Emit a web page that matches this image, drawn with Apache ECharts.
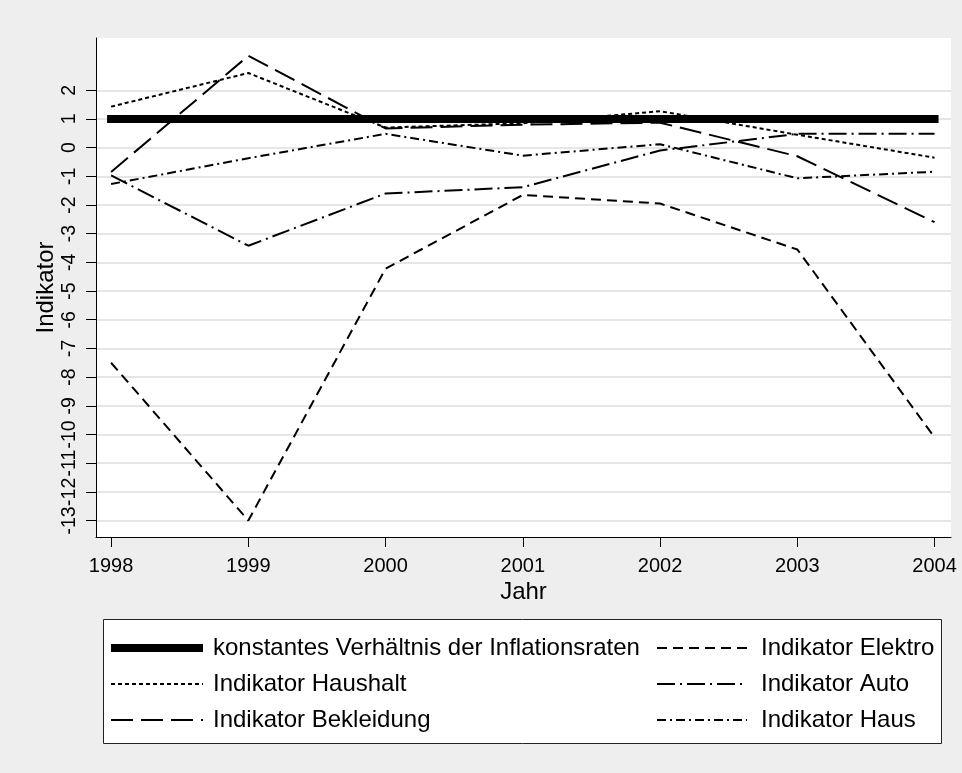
<!DOCTYPE html>
<html>
<head>
<meta charset="utf-8">
<script src="https://cdn.jsdelivr.net/npm/echarts@6/dist/echarts.min.js"></script>
<style>
  html, body { margin: 0; padding: 0; background: #eeeeee; }
  #chart { width: 962px; height: 773px; }
</style>
</head>
<body>
<div id="chart"></div>
<script>
// Daten
var jahre = [1998, 1999, 2000, 2001, 2002, 2003, 2004];
var yTicks = [-13, -12, -11, -10, -9, -8, -7, -6, -5, -4, -3, -2, -1, 0, 1, 2];
var konstant = [1, 1, 1, 1, 1, 1, 1];
var elektro = [-7.5, -13.0, -4.22, -1.65, -1.95, -3.55, -10.1];
var haushalt = [1.43, 2.6, 0.7, 0.85, 1.27, 0.45, -0.35];
var bekleidung = [-0.85, 3.2, 0.67, 0.8, 0.87, -0.3, -2.6];
var auto = [-0.97, -3.42, -1.6, -1.38, -0.1, 0.48, 0.48];
var haus = [-1.27, -0.37, 0.48, -0.28, 0.12, -1.07, -0.84];

function paare(werte) {
  return jahre.map(function (j, i) { return [j, werte[i]]; });
}

function linie(name, werte, breite, dash, cap) {
  return {
    name: name,
    type: "line",
    data: paare(werte),
    symbol: "none",
    animation: false,
    lineStyle: { color: "#000", width: breite, type: dash, cap: cap || "butt" },
    itemStyle: { color: "#000" }
  };
}

var font = "Arial, 'Liberation Sans', sans-serif";
var myChart = echarts.init(document.getElementById("chart"));

var legendText = { fontFamily: font, fontSize: 24, color: "#000", lineHeight: 26 };

var option = {
  backgroundColor: "#eeeeee",
  animation: false,
  grid: {
    left: 96, right: 11, top: 38, bottom: 236,
    show: true, backgroundColor: "#ffffff", borderWidth: 0,
    outerBoundsMode: "none"
  },
  xAxis: {
    type: "value",
    min: 1997.89, max: 2004.12,
    name: "Jahr",
    nameLocation: "middle",
    nameGap: 43,
    nameMoveOverlap: false,
    nameTextStyle: { fontFamily: font, fontSize: 24, color: "#000" },
    axisLine: { show: true, onZero: false, lineStyle: { color: "#000", width: 1 } },
    axisTick: { show: true, length: 10, lineStyle: { color: "#000" }, customValues: jahre },
    axisLabel: { customValues: jahre, fontFamily: font, fontSize: 20, color: "#000", margin: 19,
      hideOverlap: false, formatter: function (v) { return String(v); } },
    splitLine: { show: false }
  },
  yAxis: {
    type: "value",
    min: -13.575, max: 3.822,
    name: "Indikator",
    nameLocation: "middle",
    nameGap: 38,
    nameMoveOverlap: false,
    nameTextStyle: { fontFamily: font, fontSize: 24, color: "#000" },
    axisLine: { show: true, onZero: false, lineStyle: { color: "#000", width: 1 } },
    axisTick: { show: true, length: 10, lineStyle: { color: "#000" }, customValues: yTicks },
    axisLabel: { customValues: yTicks, rotate: 90, fontFamily: font, fontSize: 19.5, color: "#000", margin: 16,
      hideOverlap: false, showMinLabel: true, showMaxLabel: true },
    splitLine: { show: true, lineStyle: { color: "#e6e6e6", width: 2 } }
  },
  legend: [
    {
      orient: "vertical",
      left: 107, top: 635,
      padding: 0,
      itemWidth: 92, itemHeight: 14, itemGap: 10,
      itemStyle: { opacity: 0 },
      lineStyle: { width: "inherit", cap: "butt" },
      data: ["konstantes Verhältnis der Inflationsraten", "Indikator Haushalt", "Indikator Bekleidung"],
      textStyle: Object.assign({ padding: [0, 0, 0, 5] }, legendText)
    },
    {
      orient: "vertical",
      left: 656, top: 635,
      padding: 0,
      itemWidth: 90, itemHeight: 14, itemGap: 10,
      itemStyle: { opacity: 0 },
      lineStyle: { width: "inherit", cap: "butt" },
      data: ["Indikator Elektro", "Indikator Auto", "Indikator Haus"],
      textStyle: Object.assign({ padding: [0, 0, 0, 9] }, legendText)
    }
  ],
  graphic: [
    {
      type: "rect",
      z: -1,
      shape: { x: 103.5, y: 619.5, width: 838, height: 124 },
      style: { fill: "#ffffff", stroke: "#222", lineWidth: 1 }
    }
  ],
  series: [
    linie("konstantes Verhältnis der Inflationsraten", konstant, 8, "solid", "square"),
    linie("Indikator Elektro", elektro, 2, [10, 6]),
    linie("Indikator Haushalt", haushalt, 2, [4, 3]),
    linie("Indikator Auto", auto, 2, [18, 5, 2, 5]),
    linie("Indikator Bekleidung", bekleidung, 2, [22, 8]),
    linie("Indikator Haus", haus, 2, [9, 4, 2, 4])
  ]
};

myChart.setOption(option);
</script>
</body>
</html>
